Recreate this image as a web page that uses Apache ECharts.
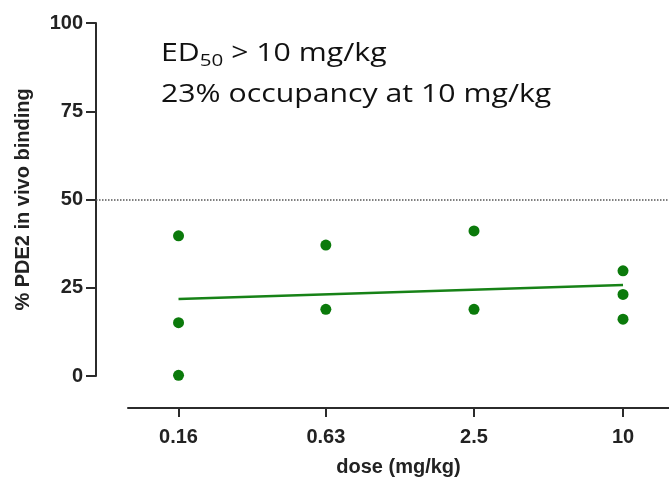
<!DOCTYPE html>
<html>
<head>
<meta charset="utf-8">
<script src="https://cdn.jsdelivr.net/npm/echarts@6/dist/echarts.min.js"></script>
<style>
  html, body { margin: 0; padding: 0; background: #fff; }
  #chart { width: 669px; height: 488px; }
</style>
</head>
<body>
<div id="chart"></div>
<script>
// ---- data ----
const doseTicks = [0.16, 0.63, 2.5, 10];
const doseTickLabels = ['0.16', '0.63', '2.5', '10'];
const yTicks = [0, 25, 50, 75, 100];
const pointDose = [0.16, 0.16, 0.16, 0.63, 0.63, 2.5, 2.5, 10, 10, 10];
const pointBinding = [39.7, 15.1, 0.2, 37.1, 18.9, 41.1, 18.9, 29.8, 23.1, 16.1];
const fitDose = [0.16, 10];
const fitBinding = [21.8, 25.8];
const thresholdLevel = 50;

const scatterData = pointDose.map((d, i) => [d, pointBinding[i]]);
const fitData = fitDose.map((d, i) => [d, fitBinding[i]]);

const axisColor = '#2b2b2b';
const textColor = '#222';
const green = '#0b7a0b';
const fontAxis = '"Liberation Sans", Arial, sans-serif';

const chart = echarts.init(document.getElementById('chart'), null, { renderer: 'canvas' });

const option = {
  backgroundColor: '#fff',
  animation: false,
  grid: [
    { left: 96, right: 0, top: 23, bottom: 112 },
    { left: 128, right: 0, top: 400, bottom: 80 }
  ],
  xAxis: [
    {
      gridIndex: 0, type: 'log', logBase: 10,
      min: 0.07424, max: 15.34, show: false
    },
    {
      gridIndex: 1, type: 'log', logBase: 10,
      min: 0.1, max: 15.34,
      position: 'bottom',
      name: 'dose (mg/kg)', nameLocation: 'middle', nameGap: 49,
      nameTextStyle: { fontFamily: fontAxis, fontWeight: 'bold', fontSize: 20, color: textColor },
      axisLine: { show: true, lineStyle: { color: axisColor, width: 2 } },
      axisTick: { show: true, length: 9, lineStyle: { color: axisColor, width: 2 }, customValues: doseTicks },
      axisLabel: {
        show: true, margin: 19, fontFamily: fontAxis, fontWeight: 'bold', fontSize: 20, color: textColor,
        customValues: doseTicks,
        formatter: function (v) {
          const i = doseTicks.findIndex(t => Math.abs(t - v) < 1e-6);
          return i >= 0 ? doseTickLabels[i] : '';
        }
      },
      splitLine: { show: false },
      minorTick: { show: false }
    }
  ],
  yAxis: [
    {
      gridIndex: 0, type: 'value', min: yTicks[0], max: yTicks[yTicks.length - 1], interval: 25,
      name: '% PDE2 in vivo binding', nameLocation: 'middle', nameGap: 63,
      nameTextStyle: { fontFamily: fontAxis, fontWeight: 'bold', fontSize: 20, color: textColor },
      axisLine: { show: true, lineStyle: { color: axisColor, width: 2 } },
      axisTick: { show: true, length: 10, lineStyle: { color: axisColor, width: 2 } },
      axisLabel: { margin: 13, fontFamily: fontAxis, fontWeight: 'bold', fontSize: 20, color: textColor },
      splitLine: { show: false }
    },
    { gridIndex: 1, type: 'value', show: false }
  ],
  graphic: [
    {
      type: 'text', x: 161, y: 54, scaleX: 1.21, scaleY: 1,
      style: {
        x: 0, y: 0,
        text: '{a|ED}{b|50}{a| > 10 mg/kg}',
        verticalAlign: 'middle', align: 'left',
        rich: {
          a: { fontFamily: '"Open Sans", sans-serif', fontSize: 25, lineHeight: 31, fill: '#111', verticalAlign: 'middle' },
          b: { fontFamily: '"Open Sans", sans-serif', fontSize: 17, lineHeight: 17, fill: '#111', verticalAlign: 'bottom' }
        }
      }
    },
    {
      type: 'text', x: 161, y: 95, scaleX: 1.21, scaleY: 1,
      style: {
        x: 0, y: 0,
        text: '23% occupancy at 10 mg/kg',
        verticalAlign: 'middle', align: 'left',
        fontFamily: '"Open Sans", sans-serif', fontSize: 25, fill: '#111'
      }
    }
  ],
  series: [
    {
      type: 'line', xAxisIndex: 0, yAxisIndex: 0,
      data: fitData, symbol: 'none', clip: false,
      lineStyle: { color: '#178217', width: 2.5 },
      z: 2
    },
    {
      type: 'scatter', xAxisIndex: 0, yAxisIndex: 0,
      data: scatterData, symbol: 'circle', symbolSize: 11, clip: false,
      itemStyle: { color: green, opacity: 1 },
      z: 3,
      markLine: {
        silent: true, symbol: 'none',
        label: { show: false },
        lineStyle: { type: 'dotted', color: '#555', width: 1.5 },
        data: [{ yAxis: thresholdLevel }]
      }
    }
  ]
};

chart.setOption(option);
</script>
</body>
</html>
